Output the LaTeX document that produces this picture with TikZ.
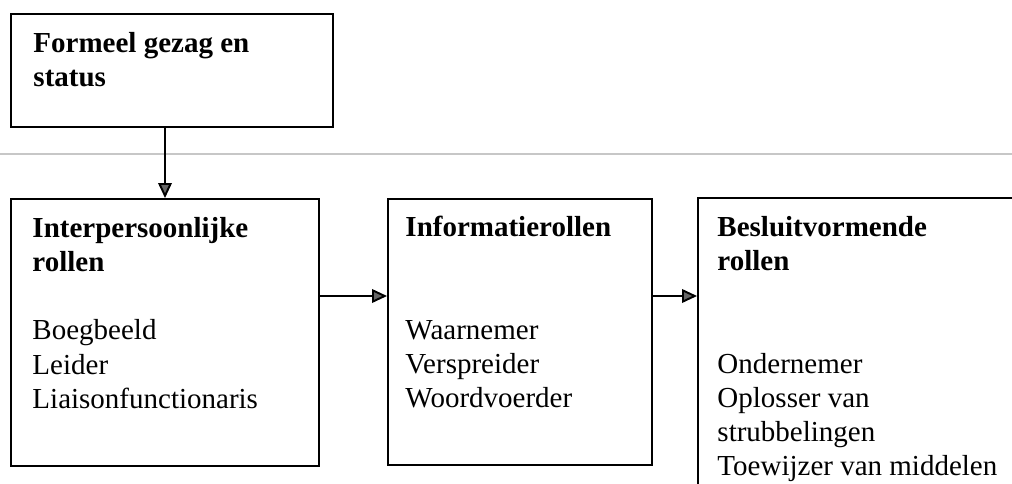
\documentclass[tikz,border=0pt]{standalone}
\usepackage{fontspec}
\setmainfont{Liberation Serif}
\usetikzlibrary{positioning}
\usetikzlibrary{fit}
\usetikzlibrary{arrows.meta}
\colorlet{line colour}{black}
\colorlet{head colour}{black!60}
\colorlet{fold colour}{black!22}
\tikzset{
    % Filled triangle heads, as in the scan
    >={Triangle[length=6.2pt, width=5.6pt, fill=head colour]},
%
    % Boxes are fitted round two corners
    box/.style={draw=line colour, line width=0.8pt, inner sep=0, fit={#1}},
    flow/.style={color=line colour, line width=0.8pt, ->},
    % Text in the boxes: one node per box, placed by its last baseline
    role text/.style={anchor=base west, inner sep=0, align=left,
        font=\fontsize{12}{14.07}\selectfont},
}

\begin{document}
\begin{tikzpicture}[
    x=0.4138pt, y=-0.4138pt,
    fold/.style={draw=fold colour, line width=0.5pt},
]

\useasboundingbox (0,0) rectangle (1012,484);
\clip (0,0) rectangle (1012,484);

% page fold of the scan
\draw [fold] (0,154) coordinate (fold left) -- (1012,154) coordinate (fold right);

\node [box={(11,14) (333,127)}] (formeel) {};
\node [box={(11,199) (319,466)}] (inter) {};
\node [box={(388,199) (652,465)}] (info) {};
\node [box={(698,198) (1060,540)}] (besluit) {};

\path
    (33,87) node [role text] (formeel text)
        {\textbf{Formeel gezag en}\\\textbf{status}}
    (32,408) node [role text] (inter text)
        {\textbf{Interpersoonlijke}\\\textbf{rollen}\\\mbox{}\\
         Boegbeeld\\Leider\\Liaisonfunctionaris}
    (405,407) node [role text] (info text)
        {\textbf{Informatierollen}\\\mbox{}\\\mbox{}\\
         Waarnemer\\Verspreider\\Woordvoerder}
    (717,475) node [role text] (besluit text)
        {\textbf{Besluitvormende}\\\textbf{rollen}\\\mbox{}\\\mbox{}\\
         Ondernemer\\Oplosser van\\strubbelingen\\Toewijzer van middelen};

\coordinate (flow) at (0,296);

\draw [flow] (formeel.south -| inter.north) -- (inter.north);
\draw [flow] (inter.east |- flow) -- (info.west |- flow);
\draw [flow] (info.east |- flow) -- (besluit.west |- flow);

\end{tikzpicture}
\end{document}
